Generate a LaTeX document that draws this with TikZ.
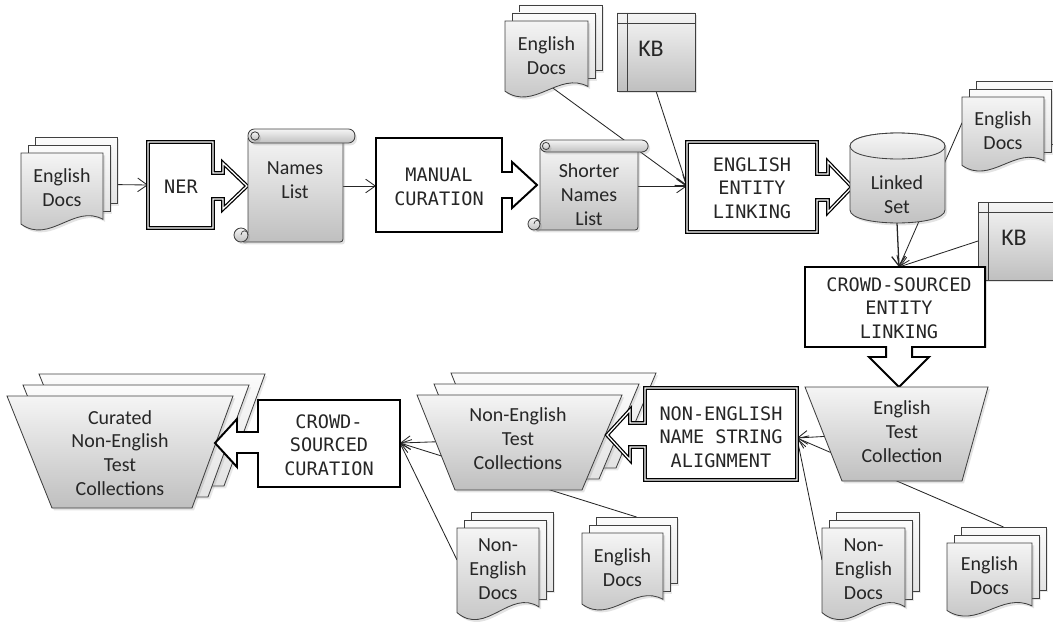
\documentclass[tikz,border=0pt]{standalone}
\usepackage{fontspec}
\setmainfont{Carlito}
\newfontfamily\pixfont{DejaVu Sans Mono}
\usepackage{tikz}
\usetikzlibrary{arrows.meta,backgrounds,shadows}

\tikzset{
  sheet/.style={draw=black!75, line width=0.6pt, top color=gray!8, bottom color=gray!50,
                drop shadow={opacity=0.22, shadow xshift=0.5mm, shadow yshift=-0.6mm}},
  sheetback/.style={draw=black!75, line width=0.6pt, top color=gray!3, bottom color=gray!22,
                drop shadow={opacity=0.18, shadow xshift=0.5mm, shadow yshift=-0.6mm}},
  procbox/.style={draw=black, fill=white, line width=1.4pt, line join=miter},
  procdbl/.style={draw=black, fill=white, line width=0.9pt, double=white,
                  double distance=0.9pt, line join=miter},
  txt/.style={align=center, text=black!85, inner sep=0pt,
              font=\fontsize{14.2}{17}\selectfont},
  caps/.style={align=center, text=black!85, inner sep=0pt,
               font=\pixfont\fontsize{13.2}{16.6}\selectfont},
  kbtxt/.style={text=black!85, inner sep=0pt, font=\fontsize{17}{20}\selectfont},
  link/.style={draw=black!85, line width=0.6pt,
               -{Straight Barb[length=2.4mm,width=3.4mm]}}
}

% stack of documents: name, x, y, w, h, text
\newcommand{\docstack}[6]{%
  \foreach \k in {2,1}
    \draw[sheetback] (#2+7*\k,#3-8*\k) rectangle ++(#4,0.84*#5);
  \draw[sheet] (#2,#3) -- ++(#4,0) -- ++(0,0.84*#5)
    .. controls (#2+0.65*#4,#3+0.64*#5) and (#2+0.35*#4,#3+1.16*#5) .. (#2,#3+0.9*#5) -- cycle;
  \node[txt] (#1) at (#2+0.5*#4,#3+0.44*#5) {#6};
  \coordinate (#1-w) at (#2,#3+0.34*#5);
  \coordinate (#1-e) at (#2+#4+14,#3+0.4*#5);
  \coordinate (#1-s) at (#2+0.5*#4,#3+0.8*#5);
  \coordinate (#1-n) at (#2+14+0.5*#4,#3-16);
}
% scroll: left, right, top, bottom, roll radius
\newcommand{\scrollshape}[5]{%
  \draw[sheet, rounded corners=0.7mm] (#1,#3+#5) -- (#2,#3+#5) -- (#2,#4)
    -- (#1-#5,#4) -- (#1-#5,#4-#5) -- (#1,#4-#5) -- cycle;
  \draw[sheet] (#1-#5,#4-#5) circle (#5);
  \draw[draw=black!75, line width=0.5pt] (#1-#5,#4-#5)
    .. controls (#1-#5,#4-1.8*#5) and (#1,#4-1.8*#5) .. (#1,#4-#5);
  \draw[sheet, rounded corners=1.6mm] (#1,#3) rectangle (#2+1.7*#5,#3+2*#5);
  \draw[sheet] (#1+#5,#3+#5) circle (0.6*#5);
}
% knowledge base box: name, x, y, w, h
\newcommand{\kbbox}[5]{%
  \draw[sheet] (#2,#3) rectangle ++(#4,#5);
  \draw[draw=black!75, line width=0.6pt] (#2+10,#3) -- ++(0,#5) (#2,#3+10) -- ++(#4,0);
  \coordinate (#1-s) at (#2+0.5*#4,#3+#5);
  \coordinate (#1-w) at (#2,#3+0.5*#5);
}

\begin{document}
\begin{tikzpicture}[x=0.25mm, y=-0.25mm]
\useasboundingbox (0,0) rectangle (1053,627);
\clip (0,0) rectangle (1053,627);

% --- top row ---
\docstack{docsA}{21}{153}{82}{79}{English\\Docs}

\draw[procdbl] (148,142) -- (213,142) -- (213,173) -- (223,173) -- (223,163) -- (247,186)
  -- (223,209) -- (223,199) -- (213,199) -- (213,228) -- (148,228) -- cycle;
\node[caps] (ner) at (181,187) {NER};
\coordinate (ner-in) at (148,185);

\scrollshape{248}{343}{129}{242}{7}
\node[txt] (names) at (295,180) {Names\\List};
\coordinate (names-e) at (343,186);

\draw[procbox] (376,138) -- (502,138) -- (502,172) -- (512,172) -- (512,162) -- (537,185)
  -- (512,208) -- (512,198) -- (502,198) -- (502,232) -- (376,232) -- cycle;
\node[caps] (manual) at (439,187) {MANUAL\\CURATION};
\coordinate (manual-in) at (376,186);

\scrollshape{540}{638}{140}{230}{6}
\node[txt] (shorter) at (589,195) {Shorter\\Names\\List};
\coordinate (shorter-e) at (638,186);

\docstack{docsB}{505}{21}{83}{78}{English\\Docs}
\kbbox{kbA}{617}{13}{78}{78}
\node[kbtxt] (kbA) at (651,49) {KB};

\draw[procdbl] (687,142) -- (817,142) -- (817,174) -- (828,174) -- (828,162) -- (852,187)
  -- (828,212) -- (828,200) -- (817,200) -- (817,232) -- (687,232) -- cycle;
\node[caps] (eel) at (752,188) {ENGLISH\\ENTITY\\LINKING};
\coordinate (eel-in) at (687,186);

% linked set cylinder
\draw[sheet] (850,146) -- (850,210) .. controls (850,227.3) and (945,227.3) .. (945,210)
  -- (945,146) .. controls (945,128.7) and (850,128.7) .. (850,146) -- cycle;
\draw[draw=black!75, line width=0.6pt, top color=gray!4, bottom color=gray!28]
  (850,146) .. controls (850,128.7) and (945,128.7) .. (945,146)
  .. controls (945,163.3) and (850,163.3) .. (850,146) -- cycle;
\node[txt] (linked) at (897,195) {Linked\\Set};
\coordinate (linked-s) at (897,223);

\docstack{docsC}{962}{97}{82}{76}{English\\Docs}
\kbbox{kbB}{978}{202}{100}{78}
\node[kbtxt] (kbB) at (1014,238) {KB};

\draw[procbox] (805,267) -- (985,267) -- (985,347) -- (912,347) -- (912,357) -- (929,357)
  -- (899,387) -- (869,357) -- (886,357) -- (886,347) -- (805,347) -- cycle;
\node[caps] (csel) at (899,308) {CROWD-SOURCED\\ENTITY\\LINKING};
\coordinate (csel-in) at (899,267);

% --- bottom row ---
\draw[sheet] (805,387) -- (988,387) -- (962,481) -- (842,481) -- cycle;
\node[txt] (etc) at (902,432) {English\\Test\\Collection};

\foreach \k in {2,1}
  \draw[sheetback] (417+17*\k,395-11*\k) -- (622+17*\k,395-11*\k)
    -- (582+17*\k,490-11*\k) -- (455+17*\k,490-11*\k) -- cycle;
\draw[sheet] (417,395) -- (622,395) -- (582,490) -- (455,490) -- cycle;
\node[txt] (netc) at (518,439) {Non-English\\Test\\Collections};

\foreach \k in {2,1}
  \draw[sheetback] (7+16*\k,396-11*\k) -- (233+16*\k,396-11*\k)
    -- (192+16*\k,508-11*\k) -- (52+16*\k,508-11*\k) -- cycle;
\draw[sheet] (7,396) -- (233,396) -- (192,508) -- (52,508) -- cycle;
\node[txt] (cnetc) at (120,453) {Curated\\Non-English\\Test\\Collections};

\draw[procdbl] (797,388) -- (797,480) -- (645,480) -- (645,447) -- (630,447) -- (630,460)
  -- (607,435) -- (630,410) -- (630,423) -- (645,423) -- (645,388) -- cycle;
\node[caps] (nena) at (721,437) {NON-ENGLISH\\NAME STRING\\ALIGNMENT};
\coordinate (nena-in) at (797,438);

\draw[procbox] (400,400) -- (400,487) -- (258,487) -- (258,453) -- (237,453) -- (237,467)
  -- (215,443) -- (237,419) -- (237,432) -- (258,432) -- (258,400) -- cycle;
\node[caps] (csc) at (329,445) {CROWD-\\SOURCED\\CURATION};
\coordinate (csc-in) at (400,443);

\docstack{docsG}{457}{528}{82}{94}{Non-\\English\\Docs}
\docstack{docsF}{582}{533}{81}{79}{English\\Docs}
\docstack{docsE}{822}{528}{83}{94}{Non-\\English\\Docs}
\docstack{docsD}{947}{543}{85}{75}{English\\Docs}

% --- connectors, behind the shapes ---
\begin{pgfonlayer}{background}
\draw[link] (docsA-e) -- (ner-in);
\draw[link] (names-e) -- (manual-in);
\draw[link] (docsB-s) -- (eel-in);
\draw[link] (kbA-s) -- (eel-in);
\draw[link] (shorter-e) -- (eel-in);
\draw[link, line width=0.9pt] (linked-s) -- (csel-in);
\draw[link] (docsC-w) -- (csel-in);
\draw[link] (kbB-w) -- (csel-in);
\draw[link] (etc) -- (nena-in);
\draw[link] (docsD-n) -- (nena-in);
\draw[link] (docsE-w) -- (nena-in);
\draw[link] (netc) -- (csc-in);
\draw[link] (docsF-n) -- (csc-in);
\draw[link] (docsG-w) -- (csc-in);
\end{pgfonlayer}
\end{tikzpicture}
\end{document}
